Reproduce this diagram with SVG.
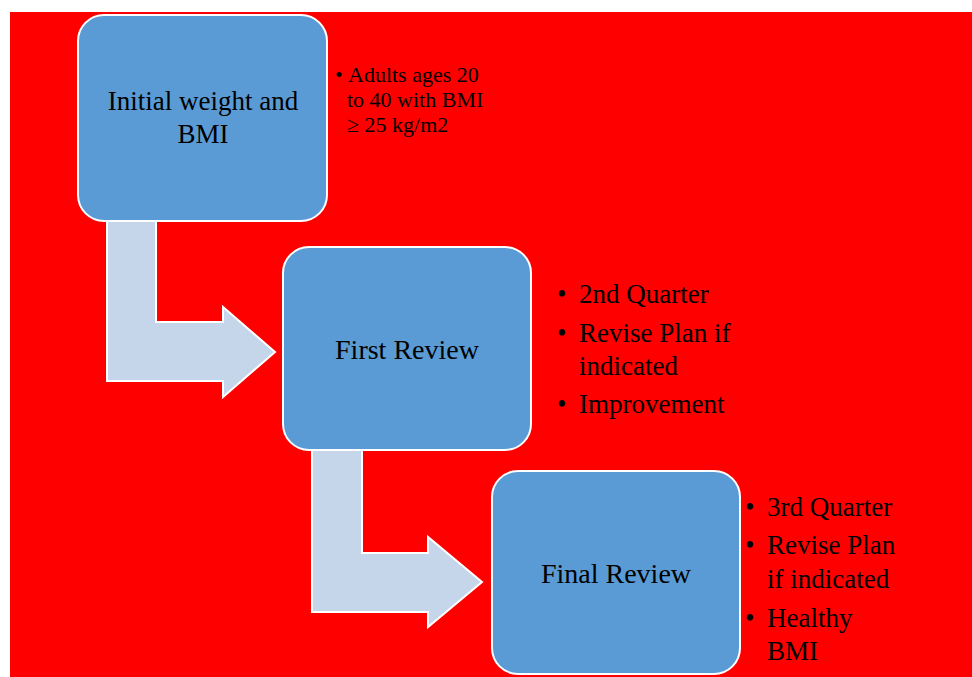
<svg xmlns="http://www.w3.org/2000/svg" width="972" height="677" viewBox="0 0 972 677">
<style>
.box{fill:#5B9BD5;stroke:#FFFFFF;stroke-width:2}
.arrow{fill:#C5D5EA;stroke:#FFFFFF;stroke-width:2}
.t{font-family:"Liberation Serif","Times New Roman",serif;fill:#000000}
.c{text-anchor:middle;font-size:27px}
.b{font-size:27px}
.s{font-size:22px}
</style>
<rect x="0" y="0" width="972" height="677" fill="#FFFFFF"/>
<rect x="10" y="12" width="962" height="665" fill="#FF0000"/>
<g id="connectors">
<path class="arrow" d="M107,221 L156,221 L156,322 L223,322 L223,307 L275,352 L223,397 L223,381 L107,381 Z"/>
<path class="arrow" d="M312,450 L362,450 L362,553 L428,553 L428,537 L482,582 L428,627 L428,612 L312,612 Z"/>
</g>
<g id="node-initial">
<rect class="box" x="78" y="15" width="249" height="206" rx="26" ry="26"/>
<text class="t c" x="203" y="110">Initial weight and</text>
<text class="t c" x="203" y="143">BMI</text>
</g>
<g id="notes-initial">
<text class="t s" x="335" y="82">•</text><text class="t s" x="348" y="82">Adults ages 20</text>
<text class="t s" x="347" y="107">to 40 with BMI</text>
<text class="t s" x="347" y="132">≥ 25 kg/m2</text>
</g>
<g id="node-first">
<rect class="box" x="283" y="247" width="248" height="203" rx="26" ry="26"/>
<text class="t c" x="407" y="359" style="font-size:28px">First Review</text>
</g>
<g id="notes-first">
<text class="t b" x="557" y="303">•</text><text class="t b" x="579" y="303">2nd Quarter</text>
<text class="t b" x="557" y="342">•</text><text class="t b" x="579" y="342">Revise Plan if</text>
<text class="t b" x="579" y="375">indicated</text>
<text class="t b" x="557" y="413">•</text><text class="t b" x="579" y="413">Improvement</text>
</g>
<g id="node-final">
<rect class="box" x="492" y="471" width="248" height="203" rx="26" ry="26"/>
<text class="t c" x="616" y="583" style="font-size:28px">Final Review</text>
</g>
<g id="notes-final">
<text class="t b" x="745" y="516">•</text><text class="t b" x="767" y="516">3rd Quarter</text>
<text class="t b" x="745" y="554">•</text><text class="t b" x="767" y="554">Revise Plan</text>
<text class="t b" x="767" y="588">if indicated</text>
<text class="t b" x="745" y="627">•</text><text class="t b" x="767" y="627">Healthy</text>
<text class="t b" x="767" y="660">BMI</text>
</g>
</svg>
